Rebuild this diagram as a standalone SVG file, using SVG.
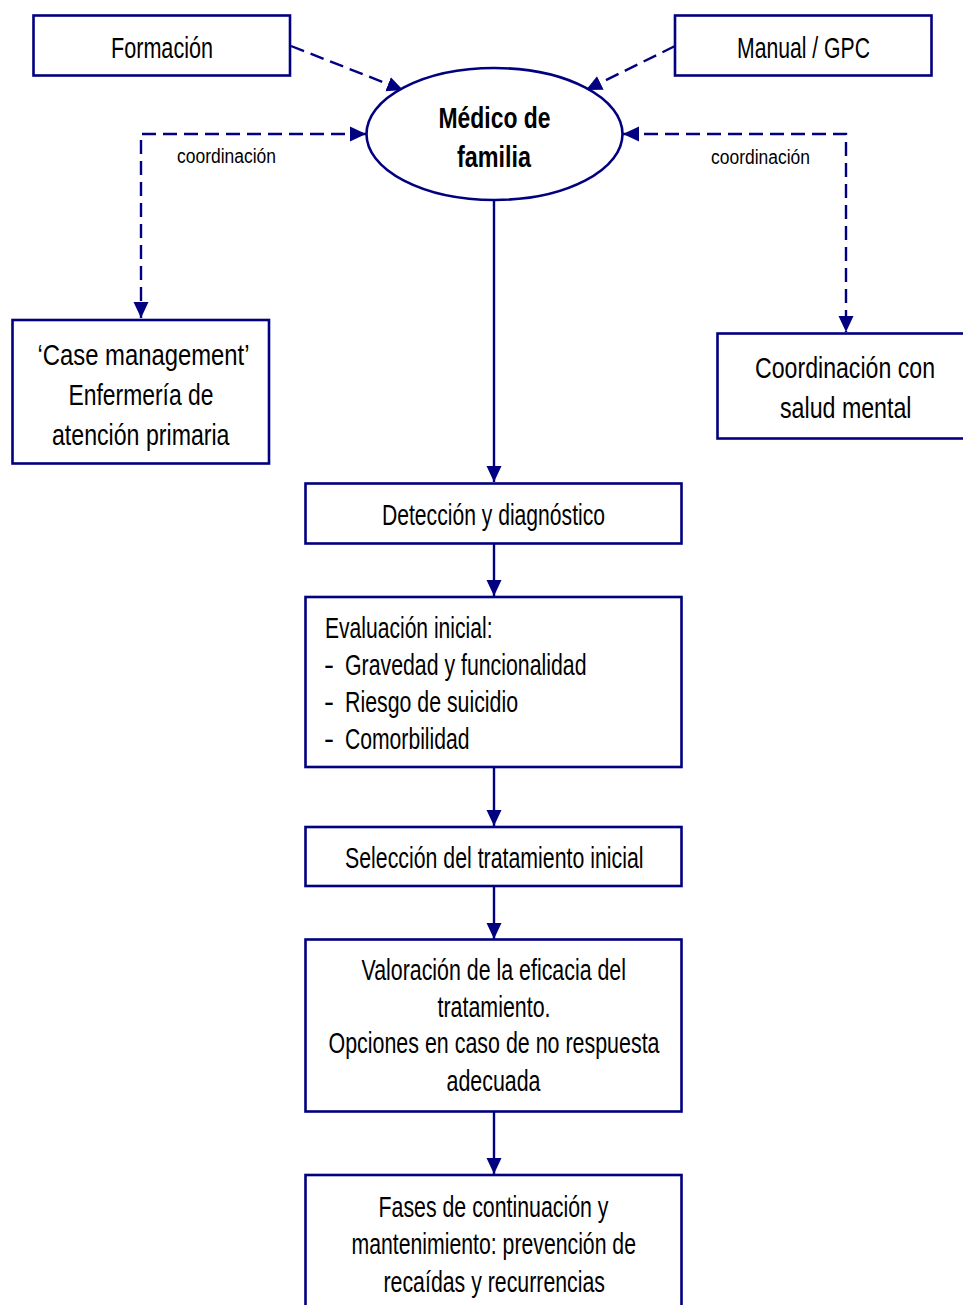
<svg xmlns="http://www.w3.org/2000/svg" width="963" height="1305" viewBox="0 0 963 1305">
  <style>
    .box { fill: #ffffff; stroke: #000080; stroke-width: 2.6; }
    .t { font-family: "Liberation Sans Narrow", "Liberation Sans", Arial, sans-serif; font-size: 30px; fill: #000000; }
    .b { font-weight: bold; }
    .small { font-family: "Liberation Sans Narrow", "Liberation Sans", Arial, sans-serif; font-size: 20px; fill: #000000; }
    .line { fill: none; stroke: #000080; stroke-width: 2.4; }
    .dash { stroke-dasharray: 14 7; }
  </style>
  <defs>
    <marker id="arrow" markerUnits="userSpaceOnUse" markerWidth="16" markerHeight="16" viewBox="0 0 16 16" refX="16" refY="8" orient="auto-start-reverse">
      <path d="M0,0.5 L16,8 L0,15.5 Z" fill="#000080"/>
    </marker>
  </defs>

  <rect width="963" height="1305" fill="#ffffff"/>

  <!-- connectors -->
  <g id="connectors">
    <line class="line dash" x1="291" y1="46" x2="403" y2="90" marker-end="url(#arrow)"/>
    <line class="line dash" x1="675" y1="46" x2="586" y2="90" marker-end="url(#arrow)"/>
    <path class="line dash" d="M366,134 L141,134 L141,318" marker-start="url(#arrow)" marker-end="url(#arrow)"/>
    <path class="line dash" d="M623,134 L846,134 L846,332" marker-start="url(#arrow)" marker-end="url(#arrow)"/>
    <line class="line" x1="494" y1="200" x2="494" y2="482" marker-end="url(#arrow)"/>
    <line class="line" x1="494" y1="544" x2="494" y2="596" marker-end="url(#arrow)"/>
    <line class="line" x1="494" y1="767" x2="494" y2="826" marker-end="url(#arrow)"/>
    <line class="line" x1="494" y1="886" x2="494" y2="939" marker-end="url(#arrow)"/>
    <line class="line" x1="494" y1="1112" x2="494" y2="1174" marker-end="url(#arrow)"/>
    <text class="small" x="177" y="163" textLength="99" lengthAdjust="spacingAndGlyphs">coordinación</text>
    <text class="small" x="711" y="164" textLength="99" lengthAdjust="spacingAndGlyphs">coordinación</text>
  </g>

  <g id="formacion">
    <rect class="box" x="33.5" y="15.5" width="256.5" height="60"/>
    <text class="t" x="111" y="58" textLength="102" lengthAdjust="spacingAndGlyphs">Formación</text>
  </g>

  <g id="manual-gpc">
    <rect class="box" x="675" y="15.5" width="256.5" height="60"/>
    <text class="t" x="737" y="58" textLength="133" lengthAdjust="spacingAndGlyphs">Manual / GPC</text>
  </g>

  <g id="medico-familia">
    <ellipse class="box" cx="494.5" cy="134" rx="128" ry="66"/>
    <text class="t b" x="438.5" y="128" textLength="112" lengthAdjust="spacingAndGlyphs">Médico de</text>
    <text class="t b" x="457" y="167" textLength="74" lengthAdjust="spacingAndGlyphs">familia</text>
  </g>

  <g id="case-management">
    <rect class="box" x="12.5" y="320" width="256.5" height="143.5"/>
    <text class="t" x="37.5" y="365" textLength="212" lengthAdjust="spacingAndGlyphs">‘Case management’</text>
    <text class="t" x="68.5" y="405" textLength="145" lengthAdjust="spacingAndGlyphs">Enfermería de</text>
    <text class="t" x="52" y="445" textLength="177.5" lengthAdjust="spacingAndGlyphs">atención primaria</text>
  </g>

  <g id="salud-mental">
    <rect class="box" x="717.5" y="333.5" width="260" height="105"/>
    <text class="t" x="755" y="378" textLength="180" lengthAdjust="spacingAndGlyphs">Coordinación con</text>
    <text class="t" x="780" y="418" textLength="131.5" lengthAdjust="spacingAndGlyphs">salud mental</text>
  </g>

  <g id="deteccion">
    <rect class="box" x="305.5" y="483.5" width="376" height="60"/>
    <text class="t" x="382" y="525" textLength="223" lengthAdjust="spacingAndGlyphs">Detección y diagnóstico</text>
  </g>

  <g id="evaluacion">
    <rect class="box" x="305.5" y="597" width="376" height="170"/>
    <text class="t" x="325" y="638" textLength="167.5" lengthAdjust="spacingAndGlyphs">Evaluación inicial:</text>
    <text class="t" x="324" y="675">-</text>
    <text class="t" x="345" y="675" textLength="241.5" lengthAdjust="spacingAndGlyphs">Gravedad y funcionalidad</text>
    <text class="t" x="324" y="712">-</text>
    <text class="t" x="345" y="712" textLength="173" lengthAdjust="spacingAndGlyphs">Riesgo de suicidio</text>
    <text class="t" x="324" y="749">-</text>
    <text class="t" x="345" y="749" textLength="124.5" lengthAdjust="spacingAndGlyphs">Comorbilidad</text>
  </g>

  <g id="seleccion">
    <rect class="box" x="305.5" y="827" width="376" height="59"/>
    <text class="t" x="345" y="868" textLength="298.5" lengthAdjust="spacingAndGlyphs">Selección del tratamiento inicial</text>
  </g>

  <g id="valoracion">
    <rect class="box" x="305.5" y="939.5" width="376" height="172"/>
    <text class="t" x="361.5" y="980" textLength="264.5" lengthAdjust="spacingAndGlyphs">Valoración de la eficacia del</text>
    <text class="t" x="437.5" y="1017" textLength="113" lengthAdjust="spacingAndGlyphs">tratamiento.</text>
    <text class="t" x="328.5" y="1053" textLength="331" lengthAdjust="spacingAndGlyphs">Opciones en caso de no respuesta</text>
    <text class="t" x="446.5" y="1091" textLength="94" lengthAdjust="spacingAndGlyphs">adecuada</text>
  </g>

  <g id="fases">
    <rect class="box" x="305.5" y="1175" width="376" height="160"/>
    <text class="t" x="378.5" y="1217" textLength="230" lengthAdjust="spacingAndGlyphs">Fases de continuación y</text>
    <text class="t" x="351.5" y="1254" textLength="284.5" lengthAdjust="spacingAndGlyphs">mantenimiento: prevención de</text>
    <text class="t" x="383.5" y="1292" textLength="221.5" lengthAdjust="spacingAndGlyphs">recaídas y recurrencias</text>
  </g>
</svg>
